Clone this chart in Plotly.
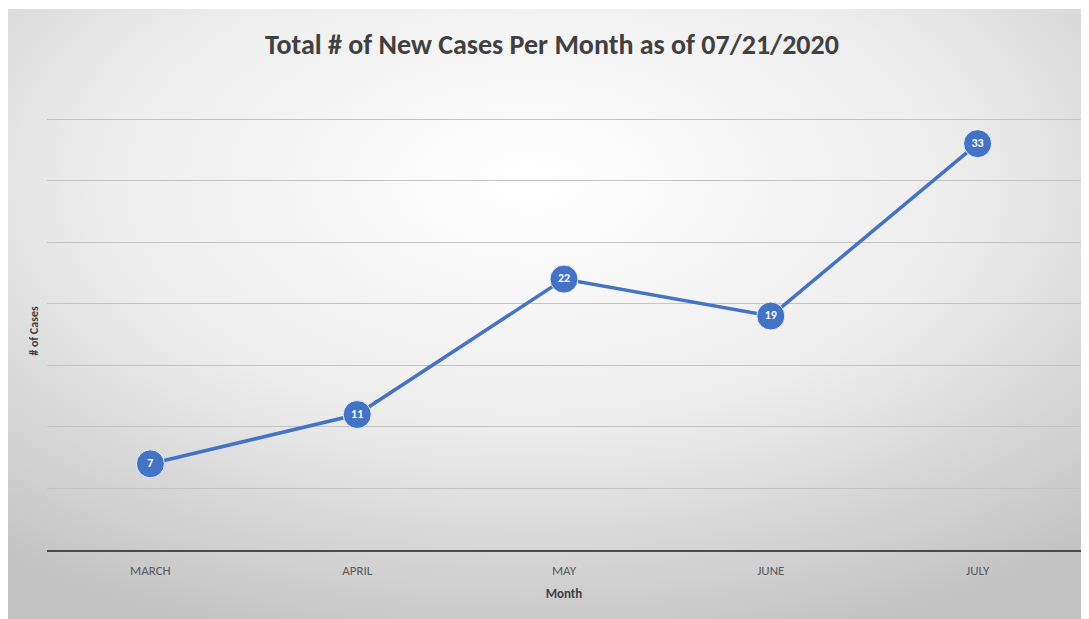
import base64
import plotly.graph_objects as go

# Data
months = ["MARCH", "APRIL", "MAY", "JUNE", "JULY"]
cases = [7, 11, 22, 19, 33]

# the page puts the figure 8px in from the top-left corner, so margins allow for it
W, H = 1089, 619
ML, MR, MT, MB = 39, 16, 104, 77
FONT = "Carlito, Open Sans, sans-serif"
pw, ph = W - ML - MR, H - MT - MB
ytop = ph / (431 / 35)  # keeps 12.3 px per case, with the 35 gridline inside

# radial grey-to-white backdrop, like the office chart style
svg = f"""<svg xmlns='http://www.w3.org/2000/svg' width='{W}' height='{H}'>
<defs><radialGradient id='g' cx='48%' cy='28%' r='78%' gradientUnits='objectBoundingBox'>
<stop offset='0' stop-color='#ffffff'/><stop offset='0.5' stop-color='#ededed'/>
<stop offset='1' stop-color='#c2c2c2'/></radialGradient></defs>
<rect x='0' y='0' width='{W}' height='{H}' fill='#ffffff'/>
<rect x='0' y='1' width='{W}' height='{H}' fill='url(#g)'/></svg>"""
bg = "data:image/svg+xml;base64," + base64.b64encode(svg.encode()).decode()

fig = go.Figure()
fig.add_trace(go.Scatter(
    x=months, y=cases, mode="lines+markers+text",
    text=[str(v) for v in cases], textposition="middle center",
    textfont=dict(color="white", size=12, family=FONT, weight="bold"),
    line=dict(color="#4472C4", width=3.5),
    marker=dict(size=28, color="#4472C4", line=dict(color="#e8eef8", width=1)),
    cliponaxis=False, hoverinfo="x+y",
))

fig.update_layout(
    width=W, height=H,
    margin=dict(l=ML, r=MR, t=MT, b=MB),
    paper_bgcolor="white", plot_bgcolor="rgba(0,0,0,0)",
    showlegend=False,
    font=dict(family=FONT, color="#595959"),
    title=dict(text="<b>Total # of New Cases Per Month as of 07/21/2020</b>",
               x=(552 - 8 - ML) / pw, xref="paper", xanchor="center",
               y=1 - 36 / H, yanchor="middle",
               font=dict(size=28, color="#404040", family=FONT)),
    images=[dict(source=bg, xref="paper", yref="paper",
                 x=-ML / pw, y=1 + MT / ph, sizex=W / pw, sizey=H / ph,
                 xanchor="left", yanchor="top", sizing="stretch", layer="below")],
)
fig.update_xaxes(
    type="category", range=[-0.5, 4.5], showgrid=False,
    showline=True, linecolor="#4a4a4a", linewidth=2, ticks="",
    ticklabelstandoff=7,
    tickfont=dict(size=13, color="#595959"),
    title=dict(text="<b>Month</b>", font=dict(size=13, color="#404040"), standoff=12),
)
fig.update_yaxes(
    range=[0, ytop], tick0=0, dtick=5, showticklabels=False, zeroline=False,
    showgrid=True, gridcolor="#c3c3c3", gridwidth=1,
    title=dict(text="<b># of Cases</b>", font=dict(size=12, color="#404040"), standoff=4),
)

fig.write_html("out.html")
